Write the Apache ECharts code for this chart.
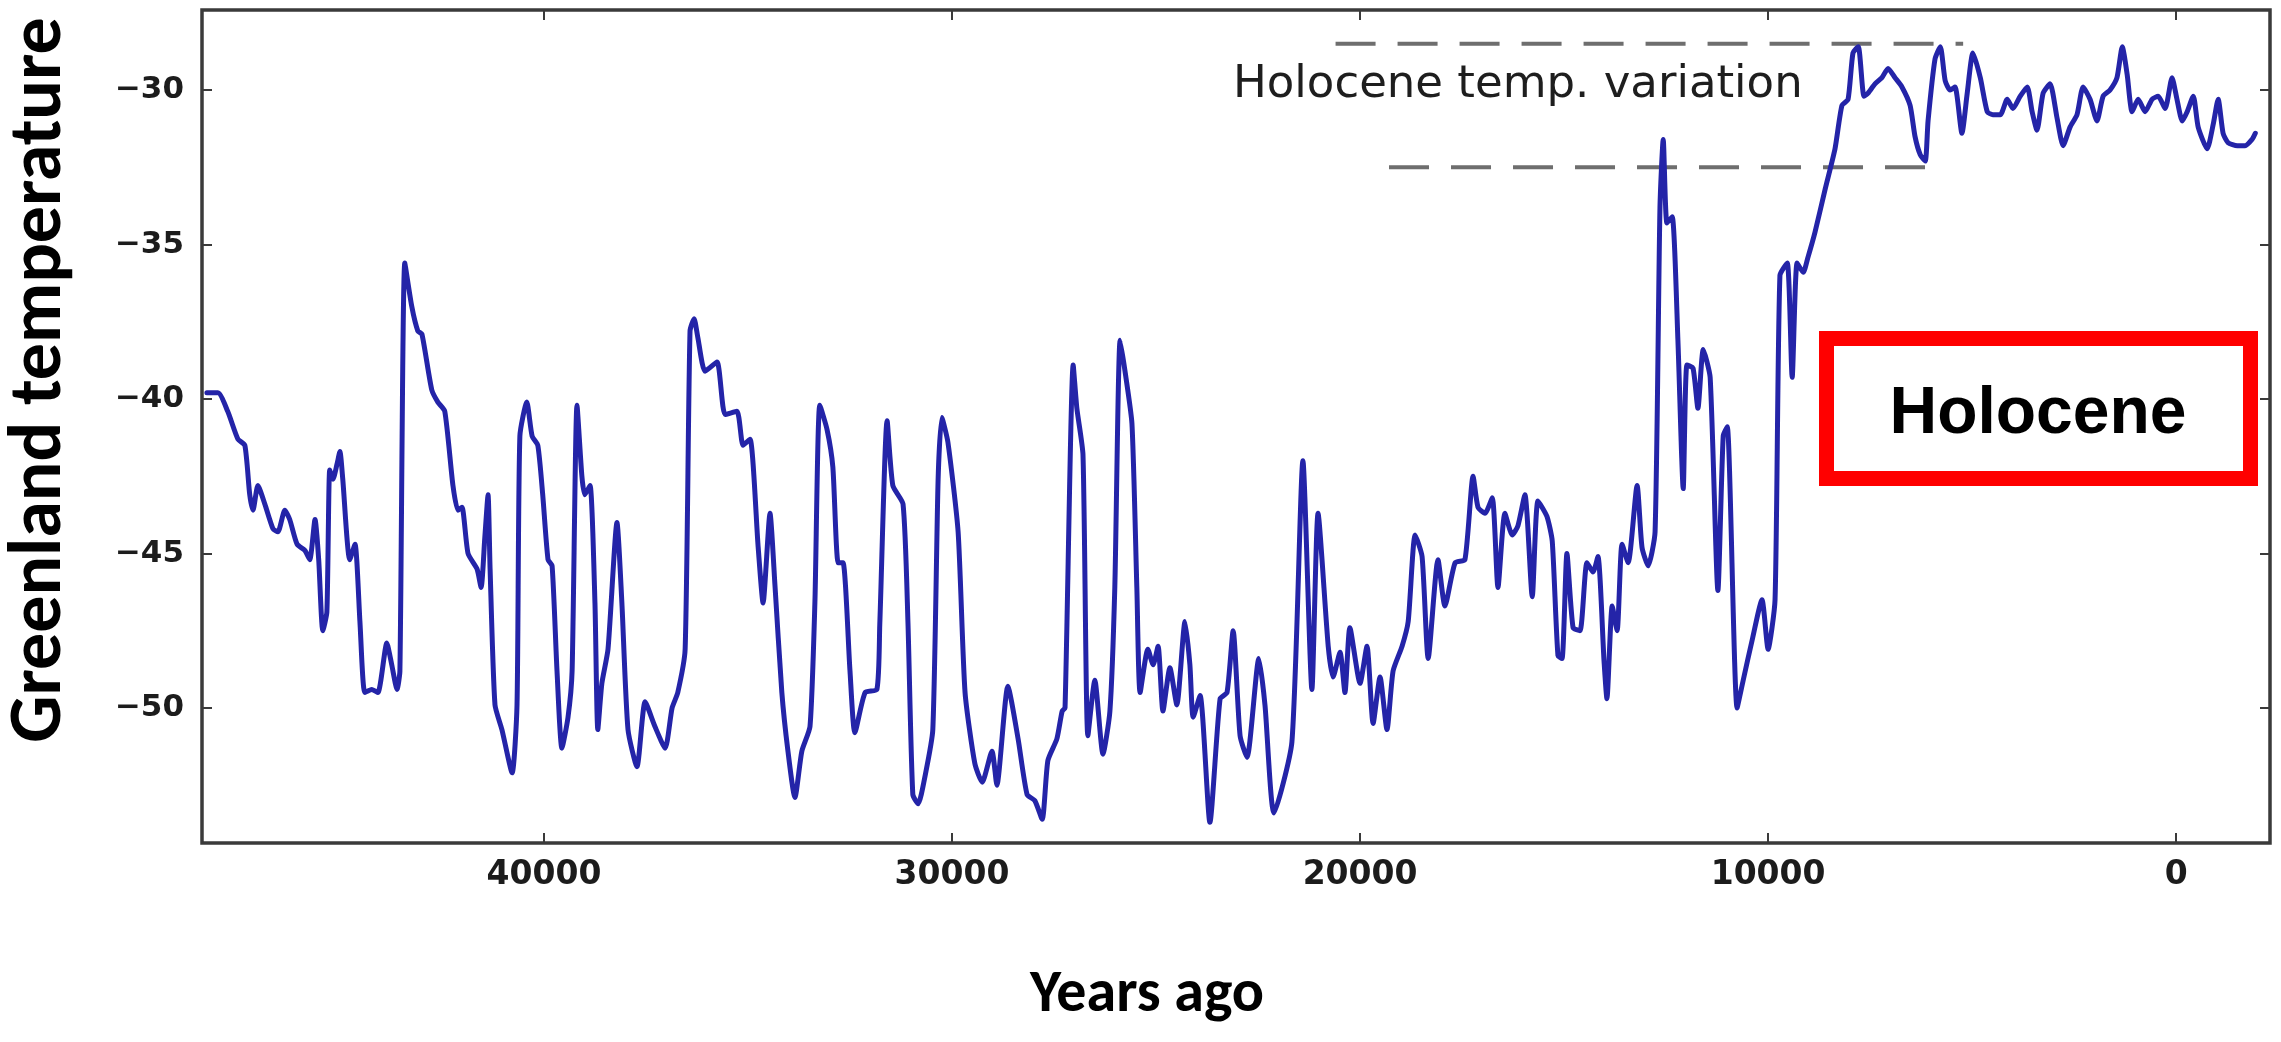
<!DOCTYPE html>
<html>
<head>
<meta charset="utf-8">
<title>Greenland temperature</title>
<script src="https://cdn.jsdelivr.net/npm/echarts@6/dist/echarts.min.js"></script>
<style>
  html, body { margin: 0; padding: 0; background: #ffffff; }
  #chart { width: 2281px; height: 1042px; }
</style>
</head>
<body>
<div id="chart"></div>
<script>
// Ice-core reconstruction: years before present and Greenland temperature (°C)
const years = [
  48260, 47990, 47750, 47500, 47330, 47210, 47130, 47010, 46840, 46640,
  46520, 46350, 46230, 46050, 45860, 45740, 45610, 45520, 45420, 45320,
  45250, 45170, 45070, 45000, 44930, 44760, 44630, 44510, 44390, 44220,
  44070, 43850, 43730, 43600, 43530, 43410, 43240, 43090, 42990, 42750,
  42600, 42430, 42230, 42110, 42010, 41860, 41640, 41540, 41450, 41370,
  41320, 41200, 41030, 40780, 40660, 40590, 40420, 40290, 40150, 40030,
  39900, 39800, 39680, 39560, 39410, 39310, 39190, 39070, 39000, 38870,
  38750, 38680, 38580, 38430, 38210, 38090, 37940, 37720, 37520, 37280,
  37030, 36860, 36720, 36540, 36420, 36320, 36230, 36050, 35760, 35560,
  35270, 35120, 34950, 34750, 34630, 34460, 34340, 34170, 34020, 33850,
  33680, 33480, 33360, 33240, 33060, 32920, 32790, 32670, 32500, 32380,
  32130, 31840, 31770, 31590, 31450, 31200, 31080, 30960, 30830, 30660,
  30470, 30340, 30250, 30100, 29850, 29680, 29440, 29260, 29020, 28900,
  28630, 28380, 28160, 27970, 27790, 27650, 27430, 27300, 27230, 27030,
  26940, 26790, 26670, 26500, 26300, 26130, 26010, 25880, 25760, 25590,
  25470, 25390, 25200, 25070, 24950, 24830, 24660, 24490, 24290, 24170,
  24090, 23920, 23680, 23430, 23260, 23110, 22940, 22770, 22480, 22330,
  22110, 21670, 21400, 21180, 21030, 20780, 20660, 20490, 20370, 20250,
  20000, 19830, 19680, 19510, 19340, 19190, 18970, 18820, 18650, 18480,
  18330, 18090, 17920, 17670, 17430, 17230, 17110, 16940, 16760, 16620,
  16450, 16270, 16130, 15960, 15780, 15640, 15420, 15290, 15150, 15050,
  14930, 14780, 14610, 14440, 14290, 14170, 14020, 13950, 13820, 13700,
  13580, 13430, 13210, 13090, 12940, 12770, 12650, 12570, 12480, 12350,
  12210, 12080, 11990, 11840, 11720, 11590, 11420, 11230, 11100, 11000,
  10760, 10610, 10390, 10150, 10000, 9830, 9710, 9530, 9410, 9290,
  9140, 9020, 8850, 8600, 8360, 8190, 8040, 7920, 7790, 7650,
  7550, 7380, 7210, 7060, 6890, 6720, 6520, 6400, 6270, 6150,
  6080, 5910, 5780, 5660, 5540, 5420, 5250, 5120, 4980, 4800,
  4630, 4490, 4310, 4140, 4000, 3820, 3650, 3530, 3410, 3260,
  3090, 2920, 2770, 2600, 2430, 2280, 2110, 1940, 1790, 1620,
  1450, 1320, 1200, 1080, 930, 760, 590, 440, 270, 100,
  -20, -150, -270, -420, -540, -760, -910, -1030, -1150, -1270,
  -1500, -1690, -1860, -1940
];

const temps = [
  -39.8, -39.8, -40.4, -41.3, -41.5, -43.1, -43.6, -42.8, -43.4, -44.2,
  -44.3, -43.6, -43.9, -44.7, -44.9, -45.2, -43.9, -45.2, -47.5, -46.9,
  -42.3, -42.6, -42.1, -41.7, -42.6, -45.2, -44.7, -47.2, -49.5, -49.4,
  -49.5, -47.9, -48.6, -49.4, -48.8, -35.6, -37.0, -37.8, -37.9, -39.7,
  -40.1, -40.4, -42.8, -43.6, -43.5, -45.0, -45.5, -46.1, -44.5, -43.1,
  -45.5, -49.9, -50.7, -52.1, -49.9, -41.2, -40.1, -41.2, -41.5, -43.1,
  -45.2, -45.4, -48.8, -51.3, -50.3, -48.8, -40.2, -42.5, -43.1, -42.8,
  -46.6, -50.7, -49.2, -48.1, -44.0, -46.6, -50.7, -51.9, -49.8, -50.6,
  -51.3, -50.0, -49.5, -48.1, -37.8, -37.4, -38.0, -39.1, -38.8, -40.5,
  -40.4, -41.5, -41.3, -44.8, -46.6, -43.7, -46.0, -49.5, -51.4, -52.9,
  -51.4, -50.6, -46.6, -40.2, -41.0, -42.2, -45.3, -45.3, -48.8, -50.8,
  -49.5, -49.4, -47.3, -40.7, -42.8, -43.4, -47.2, -52.8, -53.1, -52.2,
  -50.7, -42.6, -40.6, -41.4, -44.3, -49.5, -51.8, -52.4, -51.4, -52.5,
  -49.3, -51.0, -52.8, -53.0, -53.6, -51.7, -51.0, -50.1, -50.0, -38.9,
  -40.3, -41.8, -50.9, -49.1, -51.5, -50.1, -46.1, -38.1, -39.1, -40.8,
  -46.1, -49.5, -48.1, -48.6, -48.0, -50.1, -48.7, -49.9, -47.2, -48.6,
  -50.3, -49.6, -53.7, -49.7, -49.5, -47.5, -50.9, -51.6, -48.4, -49.9,
  -53.4, -51.1, -42.0, -49.4, -43.7, -48.0, -49.0, -48.2, -49.5, -47.4,
  -49.2, -48.0, -50.5, -49.0, -50.7, -48.8, -48.0, -47.2, -44.4, -45.1,
  -48.4, -45.2, -46.7, -45.3, -45.2, -42.5, -43.5, -43.7, -43.2, -46.1,
  -43.7, -44.4, -44.1, -43.1, -46.4, -43.3, -43.8, -44.6, -48.3, -48.4,
  -45.0, -47.4, -47.5, -45.3, -45.6, -45.1, -48.5, -49.7, -46.7, -47.5,
  -44.7, -45.3, -42.8, -44.8, -45.4, -44.3, -33.8, -31.6, -34.3, -34.1,
  -38.1, -42.9, -38.9, -39.0, -40.3, -38.4, -39.3, -46.2, -41.2, -40.9,
  -50.0, -49.1, -47.8, -46.5, -48.1, -46.5, -36.0, -35.6, -39.3, -35.6,
  -35.9, -35.4, -34.6, -33.2, -31.9, -30.5, -30.3, -28.8, -28.6, -30.2,
  -30.1, -29.8, -29.6, -29.3, -29.6, -29.9, -30.5, -31.5, -32.1, -32.3,
  -31.0, -29.0, -28.6, -29.7, -30.0, -29.9, -31.4, -30.1, -28.8, -29.6,
  -30.7, -30.8, -30.8, -30.3, -30.6, -30.2, -29.9, -30.7, -31.3, -30.1,
  -29.8, -30.9, -31.8, -31.2, -30.8, -29.9, -30.3, -31.0, -30.2, -30.0,
  -29.6, -28.6, -29.5, -30.7, -30.3, -30.7, -30.3, -30.2, -30.6, -29.6,
  -30.3, -31.0, -30.7, -30.2, -31.2, -31.9, -31.1, -30.3, -31.4, -31.7,
  -31.8, -31.8, -31.6, -31.4
];

// Axis ticks
const xTickValues = [0, 10000, 20000, 30000, 40000];
const yTickValues = [-50, -45, -40, -35, -30];

// Holocene variation band: upper and lower reference levels and their spans (years)
const upperLevelYears = [20600, 5220];
const upperLevel = -28.5;
const lowerLevelYears = [19290, 6000];
const lowerLevel = -32.5;

const curve = years.map((y, i) => [y, temps[i]]);
const upperLine = upperLevelYears.map(y => [y, upperLevel]);
const lowerLine = lowerLevelYears.map(y => [y, lowerLevel]);

const X_MIN = -2300, X_MAX = 48380;
const Y_MIN = -54.37, Y_MAX = -27.41;

const tickLabelFont = {
  fontFamily: 'DejaVu Sans',
  fontWeight: 'bold',
  color: '#1c1c1c'
};
const minus = v => (v < 0 ? '\u2212' + Math.abs(v) : String(v));
const tickStyle = { color: '#3a3a3a', width: 2 };

const chart = echarts.init(document.getElementById('chart'), null, { renderer: 'canvas' });

const option = {
  animation: false,
  backgroundColor: '#ffffff',
  grid: {
    left: 202, right: 11, top: 10, bottom: 199,
    show: true,
    borderColor: '#3a3a3a',
    borderWidth: 3.5,
    backgroundColor: 'transparent'
  },
  xAxis: [
    {
      type: 'value', inverse: true, min: X_MIN, max: X_MAX, position: 'bottom',
      axisLine: { show: false, onZero: false },
      splitLine: { show: false },
      axisTick: { show: true, inside: true, length: 10, customValues: xTickValues, lineStyle: tickStyle },
      axisLabel: { show: true, customValues: xTickValues, margin: 16, fontSize: 33,
                   formatter: v => String(v), ...tickLabelFont }
    },
    {
      type: 'value', inverse: true, min: X_MIN, max: X_MAX, position: 'top',
      axisLine: { show: false, onZero: false },
      splitLine: { show: false },
      axisTick: { show: true, inside: true, length: 10, customValues: xTickValues, lineStyle: tickStyle },
      axisLabel: { show: false }
    }
  ],
  yAxis: [
    {
      type: 'value', min: Y_MIN, max: Y_MAX, position: 'left',
      axisLine: { show: false, onZero: false },
      splitLine: { show: false },
      axisTick: { show: true, inside: true, length: 10, customValues: yTickValues, lineStyle: tickStyle },
      axisLabel: { show: true, customValues: yTickValues, margin: 18, fontSize: 31,
                   formatter: minus, ...tickLabelFont }
    },
    {
      type: 'value', min: Y_MIN, max: Y_MAX, position: 'right',
      axisLine: { show: false, onZero: false },
      splitLine: { show: false },
      axisTick: { show: true, inside: true, length: 10, customValues: yTickValues, lineStyle: tickStyle },
      axisLabel: { show: false }
    }
  ],
  series: [
    {
      name: 'upper level', type: 'line', data: upperLine,
      showSymbol: false, silent: true, z: 2,
      lineStyle: { color: '#6e6e6e', width: 4, type: [40, 22] }
    },
    {
      name: 'lower level', type: 'line', data: lowerLine,
      showSymbol: false, silent: true, z: 2,
      lineStyle: { color: '#6e6e6e', width: 4, type: [40, 22] }
    },
    {
      name: 'Greenland temperature', type: 'line', data: curve,
      showSymbol: false, z: 3, smooth: 0.2,
      lineStyle: { color: '#2424a8', width: 5, join: 'round', cap: 'round' }
    }
  ],
  graphic: [
    {
      type: 'text', x: 41, y: 380, rotation: Math.PI / 2, z: 10,
      style: {
        text: 'Greenland temperature', fill: '#000000',
        font: 'bold 74px Carlito, Lato, sans-serif',
        align: 'center', verticalAlign: 'middle'
      }
    },
    {
      type: 'text', x: 1147, y: 996, z: 10,
      style: {
        text: 'Years ago', fill: '#000000',
        font: 'bold 60px Carlito, Lato, sans-serif',
        align: 'center', verticalAlign: 'middle'
      }
    },
    {
      type: 'text', x: 1233, y: 85, z: 10,
      style: {
        text: 'Holocene temp. variation', fill: '#1e1e1e',
        font: '45px "DejaVu Sans", sans-serif',
        align: 'left', verticalAlign: 'middle'
      }
    },
    {
      type: 'rect', z: 10,
      shape: { x: 1826.5, y: 338.5, width: 424, height: 140 },
      style: { fill: '#ffffff', stroke: '#ff0000', lineWidth: 15 }
    },
    {
      type: 'text', x: 2038, y: 415, z: 11,
      style: {
        text: 'Holocene', fill: '#000000',
        font: 'bold 66px "Liberation Sans", Arial, sans-serif',
        align: 'center', verticalAlign: 'middle'
      }
    }
  ]
};

chart.setOption(option);
</script>
</body>
</html>
